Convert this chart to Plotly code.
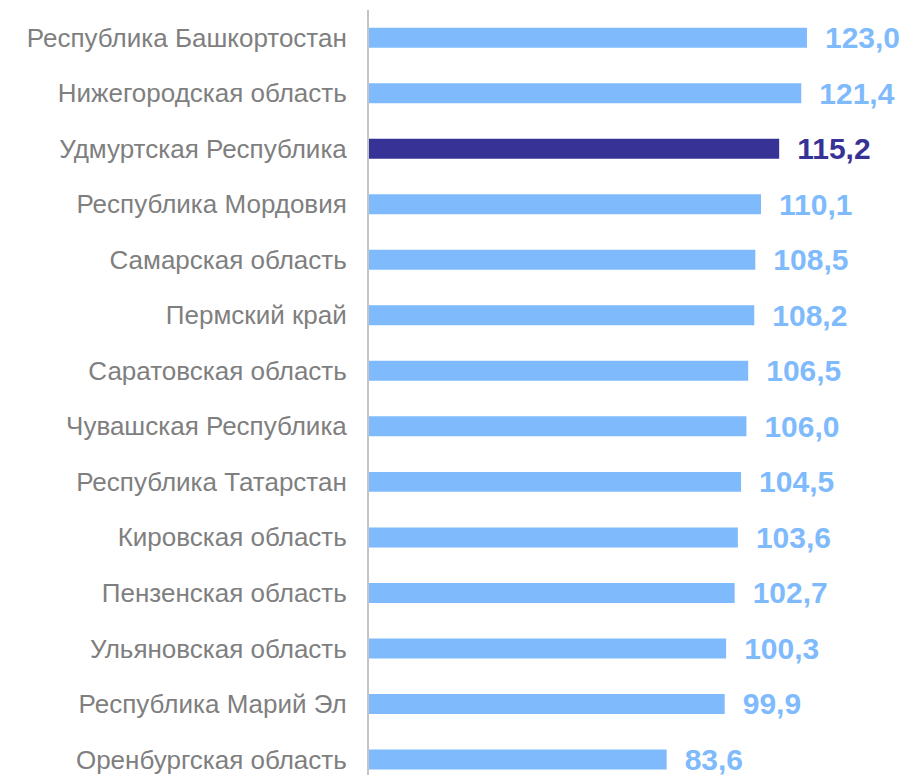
import plotly.graph_objects as go

regions = [
    "Республика Башкортостан",
    "Нижегородская область",
    "Удмуртская Республика",
    "Республика Мордовия",
    "Самарская область",
    "Пермский край",
    "Саратовская область",
    "Чувашская Республика",
    "Республика Татарстан",
    "Кировская область",
    "Пензенская область",
    "Ульяновская область",
    "Республика Марий Эл",
    "Оренбургская область",
]
values = [123.0, 121.4, 115.2, 110.1, 108.5, 108.2, 106.5, 106.0, 104.5, 103.6, 102.7, 100.3, 99.9, 83.6]
highlight = "Удмуртская Республика"

LIGHT = "#7fbbfc"
DARK = "#373295"
colors = [DARK if r == highlight else LIGHT for r in regions]
labels = ["\u2002" + f"{v:.1f}".replace(".", ",") for v in values]

fig = go.Figure(
    go.Bar(
        x=values,
        y=regions,
        orientation="h",
        marker=dict(color=colors, line=dict(width=0)),
        width=0.36,
        text=labels,
        textposition="outside",
        constraintext="none",
        cliponaxis=False,
        textfont=dict(family="Liberation Sans, Arial, sans-serif", size=30, color=colors, weight="bold"),
    )
)

fig.update_layout(
    width=899,
    height=767,
    margin=dict(l=361, r=0, t=2, b=0),
    paper_bgcolor="white",
    plot_bgcolor="white",
    showlegend=False,
    font=dict(family="Liberation Sans, Arial, sans-serif"),
    xaxis=dict(range=[0, 151.1], visible=False, showgrid=False, zeroline=False),
    yaxis=dict(
        type="category",
        range=[13.28, -0.5],
        automargin=False,
        showgrid=False,
        zeroline=False,
        showline=True,
        linecolor="#c4c4c4",
        linewidth=2,
        ticks="outside",
        ticklen=15,
        tickcolor="rgba(0,0,0,0)",
        tickfont=dict(size=26, color="#7f7f7f"),
    ),
)

fig.write_html("out.html")
